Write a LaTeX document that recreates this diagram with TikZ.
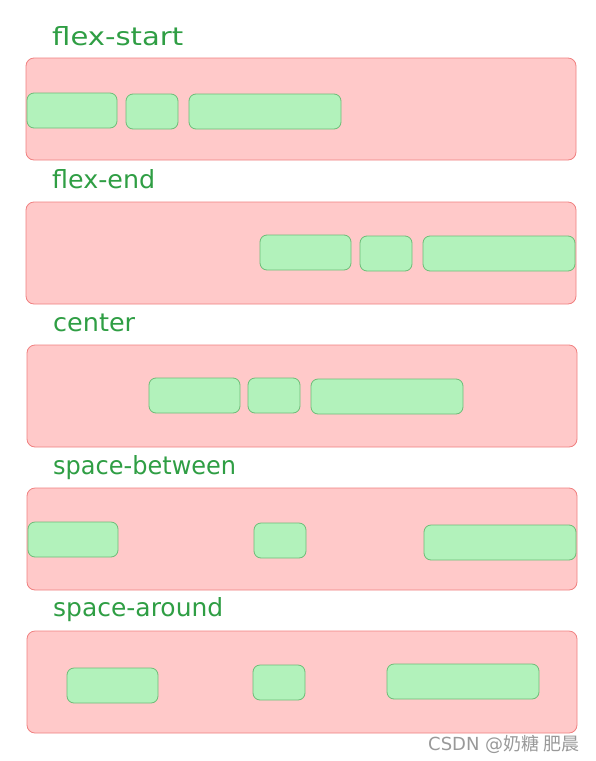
\documentclass[tikz,border=0pt]{standalone}
\usepackage{fontspec}
\setmainfont{DejaVu Sans}
\newfontfamily\cjk{Noto Sans CJK SC}
\definecolor{boxfill}{HTML}{FFC9C9}
\definecolor{boxline}{HTML}{F08080}
\definecolor{itemfill}{HTML}{B2F2BB}
\definecolor{itemline}{HTML}{6DBD78}
\definecolor{lblcol}{HTML}{2F9E44}
\newcommand{\wlbl}[2]{\resizebox{#1pt}{\height}{#2}}
\begin{document}
\begin{tikzpicture}[x=1pt,y=-1pt,
  container/.style={draw=boxline,fill=boxfill,rounded corners=8pt,line width=0.8pt},
  item/.style={draw=itemline,fill=itemfill,rounded corners=7pt,line width=0.8pt},
  lbl/.style={anchor=base west,inner sep=0pt,text=lblcol,font=\fontsize{25}{28}\selectfont}]
\useasboundingbox (0,0) rectangle (596,761);
% 1 flex-start
\node[lbl] (t1) at (52,45) {\wlbl{131}{flex-start}};
\draw[container] (26,58) rectangle (576,160);
\draw[item] (27,93) rectangle (117,128);
\draw[item] (126,94) rectangle (178,129);
\draw[item] (189,94) rectangle (341,129);
% 2 flex-end
\node[lbl] (t2) at (52,188) {\wlbl{103}{flex-end}};
\draw[container] (26,202) rectangle (576,304);
\draw[item] (260,235) rectangle (351,270);
\draw[item] (360,236) rectangle (412,271);
\draw[item] (423,236) rectangle (575,271);
% 3 center
\node[lbl] (t3) at (53,331) {\wlbl{82}{center}};
\draw[container] (27,345) rectangle (577,447);
\draw[item] (149,378) rectangle (240,413);
\draw[item] (248,378) rectangle (300,413);
\draw[item] (311,379) rectangle (463,414);
% 4 space-between
\node[lbl] (t4) at (53,474) {\wlbl{183}{space-between}};
\draw[container] (27,488) rectangle (577,590);
\draw[item] (28,522) rectangle (118,557);
\draw[item] (254,523) rectangle (306,558);
\draw[item] (424,525) rectangle (576,560);
% 5 space-around
\node[lbl] (t5) at (53,616) {\wlbl{170}{space-around}};
\draw[container] (27,631) rectangle (577,733);
\draw[item] (67,668) rectangle (158,703);
\draw[item] (253,665) rectangle (305,700);
\draw[item] (387,664) rectangle (539,699);
% watermark
\node[anchor=base west,inner sep=0pt,text=gray!80,font=\fontsize{18}{20}\selectfont] (wm) at (428,750) {CSDN @{\cjk 奶糖\ 肥晨}};
\end{tikzpicture}
\end{document}
